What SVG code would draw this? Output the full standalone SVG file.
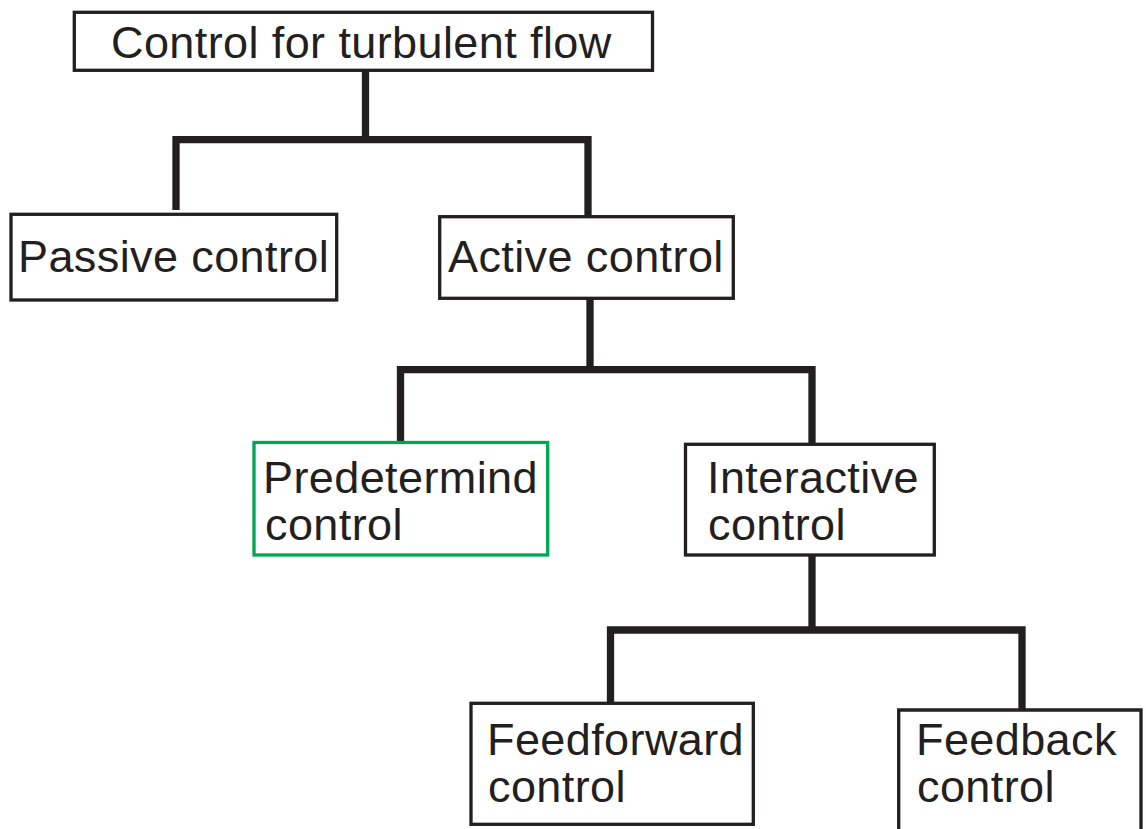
<svg xmlns="http://www.w3.org/2000/svg" width="1146" height="829" viewBox="0 0 1146 829">
<style>
.box{fill:#fff;stroke:#231f20;stroke-width:3.3}
.green{fill:#fff;stroke:#00a651;stroke-width:3.3}
.lbl{font-family:"Liberation Sans",Arial,sans-serif;font-size:45px;fill:#231f20;letter-spacing:0.4px}
.conn{fill:none;stroke:#231f20;stroke-width:7.3;stroke-linejoin:miter;stroke-linecap:butt}
</style>
<rect width="1146" height="829" fill="#fff"/>
<g id="connectors">
<path class="conn" d="M365.5,70 V139.7"/>
<path class="conn" d="M176,210 V139.7 H588 V216"/>
<path class="conn" d="M590,298 V369.7"/>
<path class="conn" d="M400.5,441 V369.7 H812 V443"/>
<path class="conn" d="M812,555 V630"/>
<path class="conn" d="M610.5,702 V630 H1022 V709"/>
</g>
<g id="root">
<rect class="box" x="74.3" y="12.3" width="578.2" height="58"/>
<text class="lbl" x="111" y="57.5">Control for turbulent flow</text>
</g>
<g id="passive">
<rect class="box" x="11" y="214.3" width="325.7" height="85.7"/>
<text class="lbl" x="18" y="271.7">Passive control</text>
</g>
<g id="active">
<rect class="box" x="439.7" y="216.7" width="293.6" height="81.6"/>
<text class="lbl" x="448" y="271.7">Active control</text>
</g>
<g id="predetermind">
<rect class="green" x="254" y="442.5" width="293.7" height="112.5"/>
<text class="lbl" x="263" y="493.3">Predetermind</text>
<text class="lbl" x="265" y="540">control</text>
</g>
<g id="interactive">
<rect class="box" x="685.5" y="444.3" width="248.8" height="110.7"/>
<text class="lbl" x="707" y="493.3">Interactive</text>
<text class="lbl" x="708" y="540">control</text>
</g>
<g id="feedforward">
<rect class="box" x="471" y="703.3" width="282.3" height="121"/>
<text class="lbl" x="487" y="755">Feedforward</text>
<text class="lbl" x="488" y="801.7">control</text>
</g>
<g id="feedback">
<path class="box" d="M898.7,835 V710 H1141 V835"/>
<text class="lbl" x="916" y="755">Feedback</text>
<text class="lbl" x="917" y="801.7">control</text>
</g>
</svg>
